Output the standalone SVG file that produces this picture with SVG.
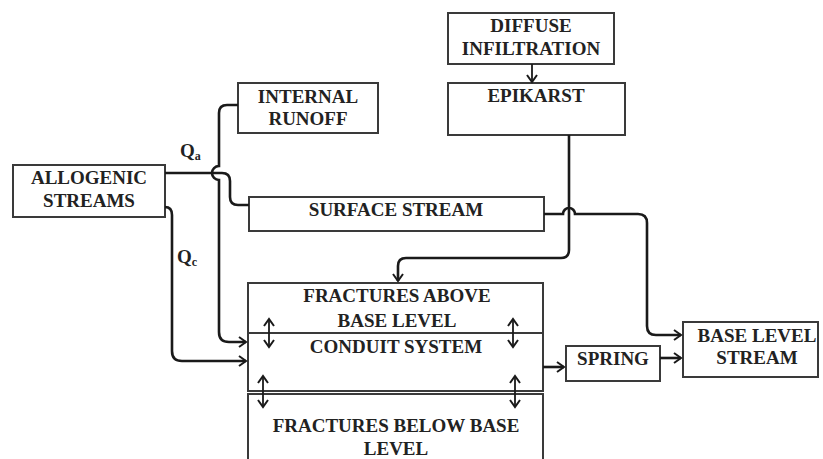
<svg xmlns="http://www.w3.org/2000/svg" width="823" height="459" viewBox="0 0 823 459">
<style>
.box{fill:#fff;stroke:#3a3a3a;stroke-width:2}
.t{font-family:"Liberation Serif","Times New Roman",serif;font-weight:bold;font-size:19px;fill:#222;text-anchor:middle}
.c{fill:none;stroke:#1a1a1a;stroke-width:2.6}
.d{fill:none;stroke:#1a1a1a;stroke-width:1.8}
</style>
<defs>
<marker id="ah" markerUnits="userSpaceOnUse" markerWidth="16" markerHeight="16" viewBox="-12 -8 14 16" refX="0" refY="0" orient="auto-start-reverse">
<path d="M-7,-5 L0,0 L-7,5" fill="none" stroke="#1a1a1a" stroke-width="2"/>
</marker>
</defs>
<rect width="823" height="459" fill="#fff"/>

<g id="allogenic">
<rect class="box" x="13" y="165" width="152" height="52"/>
<text class="t" x="89" y="184">ALLOGENIC</text>
<text class="t" x="89" y="207">STREAMS</text>
</g>
<g id="internal-runoff">
<rect class="box" x="238" y="83" width="140" height="50"/>
<text class="t" x="308" y="103">INTERNAL</text>
<text class="t" x="308" y="125">RUNOFF</text>
</g>
<g id="diffuse">
<rect class="box" x="448" y="13" width="166" height="51"/>
<text class="t" x="531" y="32">DIFFUSE</text>
<text class="t" x="531" y="55">INFILTRATION</text>
</g>
<g id="epikarst">
<rect class="box" x="448" y="83" width="177" height="52"/>
<text class="t" x="536" y="102">EPIKARST</text>
</g>
<g id="surface-stream">
<rect class="box" x="249" y="197" width="295" height="34"/>
<text class="t" x="396" y="216">SURFACE STREAM</text>
</g>
<g id="fractures-above-conduit">
<rect class="box" x="248" y="283" width="295" height="108"/>
<line x1="248" y1="333" x2="543" y2="333" stroke="#3a3a3a" stroke-width="2"/>
<text class="t" x="397" y="302">FRACTURES ABOVE</text>
<text class="t" x="397" y="327">BASE LEVEL</text>
<text class="t" x="396" y="353">CONDUIT SYSTEM</text>
</g>
<g id="fractures-below">
<rect class="box" x="248" y="394" width="295" height="75"/>
<text class="t" x="396" y="432">FRACTURES BELOW BASE</text>
<text class="t" x="396" y="455">LEVEL</text>
</g>
<g id="spring">
<rect class="box" x="566" y="346" width="94" height="35"/>
<text class="t" x="613" y="365">SPRING</text>
</g>
<g id="base-level-stream">
<rect class="box" x="683" y="322" width="135" height="55"/>
<text class="t" x="757" y="342">BASE LEVEL</text>
<text class="t" x="757" y="364">STREAM</text>
</g>

<g id="labels">
<text x="180" y="157" font-family="Liberation Serif, serif" font-weight="bold" font-size="19" fill="#222">Q<tspan font-size="12" dy="3">a</tspan></text>
<text x="177" y="263" font-family="Liberation Serif, serif" font-weight="bold" font-size="19" fill="#222">Q<tspan font-size="12" dy="3">c</tspan></text>
</g>

<g id="connectors">
<path class="c" d="M165,173 H222 Q230,173 230,181 V197 Q230,205 238,205 H249"/>
<path class="c" d="M238,105 H227 Q219,105 219,113 V166 A7,7 0 0 0 219,180 V332 Q219,342 229,342 H246" marker-end="url(#ah)"/>
<path class="c" d="M165,207 Q172,207 172,215 V351 Q172,361 182,361 H246" marker-end="url(#ah)"/>
<path class="c" d="M569,135 V250 Q569,258 561,258 H406 Q398,258 398,266 V281" marker-end="url(#ah)"/>
<path class="c" d="M544,214 H563 A6,6 0 0 1 575,214 H638 Q647,214 647,223 V326 Q647,335 656,335 H681" marker-end="url(#ah)"/>
<path class="c" d="M543,367 H564" marker-end="url(#ah)"/>
<path class="c" d="M660,358 H681" marker-end="url(#ah)"/>
<path class="d" d="M532,64 V82" marker-end="url(#ah)"/>
<path class="d" d="M269,319 V347" marker-start="url(#ah)" marker-end="url(#ah)"/>
<path class="d" d="M513,319 V347" marker-start="url(#ah)" marker-end="url(#ah)"/>
<path class="d" d="M263,376 V407" marker-start="url(#ah)" marker-end="url(#ah)"/>
<path class="d" d="M515,376 V407" marker-start="url(#ah)" marker-end="url(#ah)"/>
</g>
</svg>
